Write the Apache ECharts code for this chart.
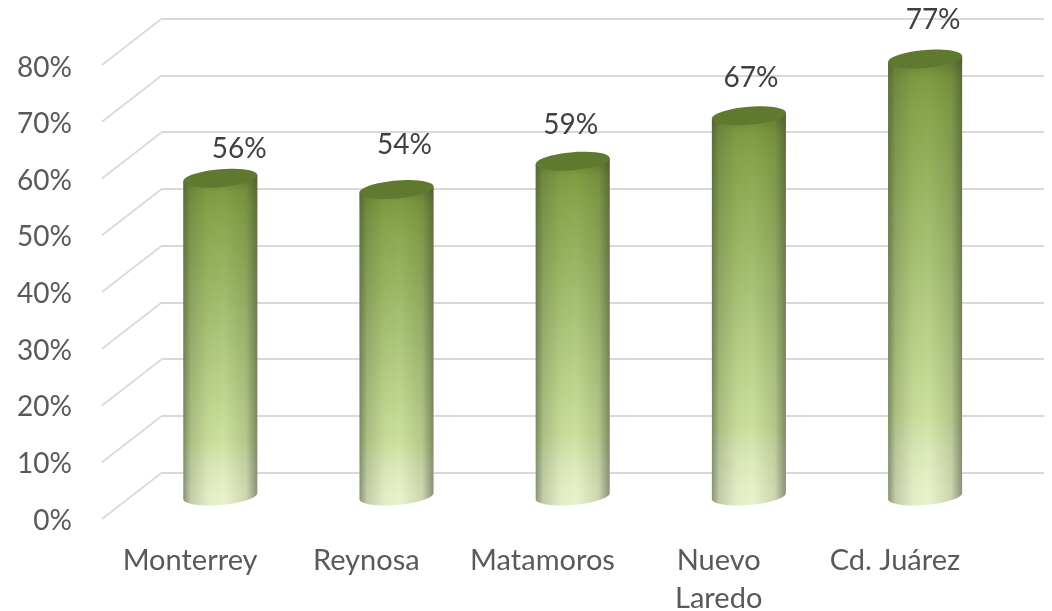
<!DOCTYPE html>
<html><head><meta charset="utf-8">
<style>html,body{margin:0;padding:0;background:#fff}#c{width:1052px;height:611px}</style>
<script src="https://cdn.jsdelivr.net/npm/echarts@6/dist/echarts.min.js"></script>
</head><body><div id="c"></div>
<script>
const categories = ['Monterrey', 'Reynosa', 'Matamoros', 'Nuevo\nLaredo', 'Cd. Juárez'];
const values = [56, 54, 59, 67, 77];
const ticks = [0, 10, 20, 30, 40, 50, 60, 70, 80];

const labelNudge = [[19, -29], [8, -45], [-2, -36], [2, -38], [8, -39]];
const depth = [60, -46.5];
const font = 'Lato, "Open Sans", sans-serif';
const G = echarts.graphic.LinearGradient;

function ellipsePts(cx, cy, rx, ry, s, from, to) {
  const pts = [], n = 48;
  for (let i = 0; i <= n; i++) {
    const t = from + (to - from) * i / n;
    pts.push([cx + rx * Math.cos(t), cy + ry * Math.sin(t) - s * Math.cos(t)]);
  }
  return pts;
}
const vStops = () => new G(0, 0, 0, 1, [
  {offset: 0, color: '#637d32'}, {offset: .05, color: '#7e9c42'}, {offset: .12, color: '#88a74c'},
  {offset: .5, color: '#adc77c'}, {offset: .8, color: '#cce09c'}, {offset: .87, color: '#dae8b6'},
  {offset: .96, color: '#e7f1c9'}, {offset: 1, color: '#e8f2cc'}]);
const hStops = () => new G(0, 0, 1, 0, [
  {offset: 0, color: 'rgba(60,68,50,0.55)'}, {offset: .1, color: 'rgba(60,68,40,0.22)'},
  {offset: .34, color: 'rgba(60,68,40,0.03)'}, {offset: .55, color: 'rgba(60,68,40,0)'},
  {offset: .85, color: 'rgba(60,68,40,0.16)'}, {offset: 1, color: 'rgba(60,68,50,0.55)'}]);

function renderCyl(params, api) {
  const i = api.value(0), v = api.value(1);
  const top = api.coord([i, v]), base = api.coord([i, 0]);
  const rx = api.size([1, 0])[0] * 0.21, ry = 9, s = 3;
  const cx = top[0];
  const body = [[cx + rx, top[1] - s]].concat(
    ellipsePts(cx, base[1], rx, ry, s, 0, Math.PI),
    [[cx - rx, top[1] + s]]);
  const n = labelNudge[params.dataIndex];
  return {type: 'group', children: [
    {type: 'polygon', shape: {points: body}, style: {fill: vStops()}},
    {type: 'polygon', shape: {points: body}, style: {fill: hStops()}},
    {type: 'polygon', shape: {points: ellipsePts(cx, top[1], rx, ry, s, 0, Math.PI * 2)}, style: {fill: '#5f7a2e'}},
    {type: 'text', style: {text: v + '%', x: cx + n[0], y: top[1] + n[1], fill: '#404040',
      font: '28px ' + font, align: 'center', verticalAlign: 'middle'}}
  ]};
}
function renderDiag(params, api) {
  const y = api.coord([0, api.value(0)])[1], x = params.coordSys.x;
  return {type: 'line', shape: {x1: x, y1: y, x2: x - depth[0], y2: y - depth[1]},
    style: {stroke: '#d9d9d9', lineWidth: 1.6}};
}
const hiddenX = g => ({type: 'category', gridIndex: g, data: categories, show: false});
const hiddenY = (g, split) => ({type: 'value', gridIndex: g, min: 0, max: 80, interval: 10,
  axisLine: {show: false}, axisTick: {show: false}, axisLabel: {show: false},
  splitLine: {show: split, lineStyle: {color: '#d9d9d9', width: 2}}});

const chart = echarts.init(document.getElementById('c'), null, {renderer: 'canvas'});
chart.setOption({
  animation: false,
  backgroundColor: '#fff',
  grid: [
    {left: 102, top: 67.5, width: 881, height: 453, outerBoundsMode: 'none'},
    {left: 162, top: 18.5, width: 882, height: 454, outerBoundsMode: 'none'},
    {left: 132.2, top: 42, width: 881, height: 454, outerBoundsMode: 'none'}
  ],
  xAxis: [
    {type: 'category', gridIndex: 0, data: categories, axisLine: {show: false}, axisTick: {show: false},
     axisLabel: {color: '#595959', fontSize: 29, fontFamily: font, margin: 21, lineHeight: 38, interval: 0}},
    hiddenX(1), hiddenX(2)
  ],
  yAxis: [
    {type: 'value', gridIndex: 0, min: 0, max: 80, interval: 10, axisLine: {show: false}, axisTick: {show: false},
     splitLine: {show: false},
     axisLabel: {color: '#595959', fontSize: 28, fontFamily: font, margin: 30, formatter: '{value}%'}},
    hiddenY(1, true), hiddenY(2, false)
  ],
  series: [
    {type: 'custom', xAxisIndex: 1, yAxisIndex: 1, z: 1, silent: true, renderItem: renderDiag,
     clip: false, encode: {y: 0}, data: ticks.map(t => [t])},
    {type: 'custom', xAxisIndex: 2, yAxisIndex: 2, z: 5, silent: true, renderItem: renderCyl,
     encode: {x: 0, y: 1}, data: values.map((v, i) => [i, v])}
  ]
});
</script></body></html>
